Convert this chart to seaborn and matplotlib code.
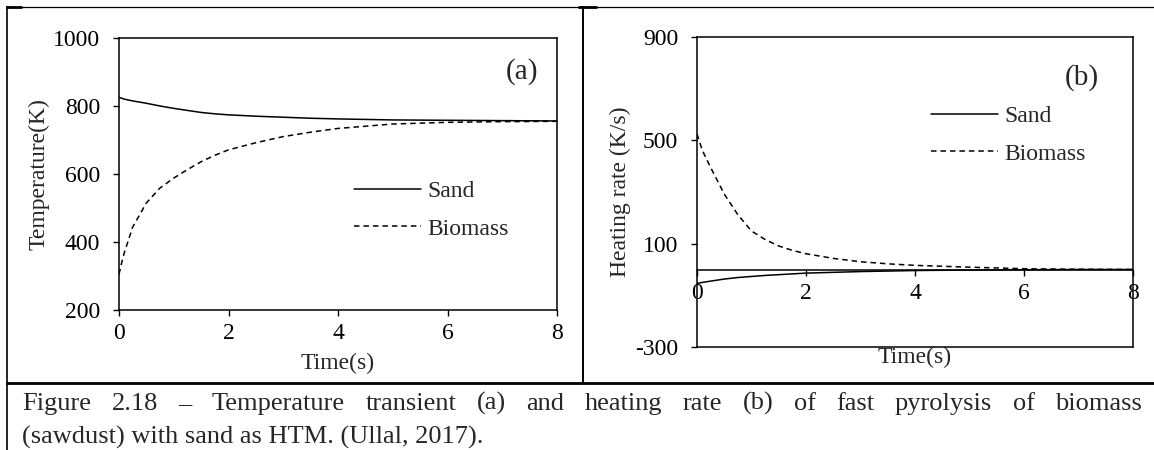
import numpy as np
import pandas as pd
import matplotlib
matplotlib.use("Agg")
import matplotlib.pyplot as plt
from matplotlib.lines import Line2D
import seaborn as sns

# ---- data -------------------------------------------------------------
time_s = [0, 0.05, 0.1, 0.25, 0.5, 0.75, 1, 1.25, 1.5, 1.75, 2, 2.5, 3, 3.5, 4, 5, 6, 7, 8]
temp_sand = [825, 823, 820, 815, 808, 800, 793, 787, 781, 777, 774, 770, 767, 764,
             762, 759, 758, 757, 756]
temp_biomass = [305, 340, 370, 444, 515, 559, 588, 613, 636, 655, 671, 692, 710, 723,
                734, 747, 752, 754, 755]

rate_time = [0, 0.05, 0.1, 0.25, 0.5, 0.75, 1, 1.25, 1.5, 1.75, 2, 2.5, 3, 3.5, 4, 5, 6, 7, 8]
rate_sand = [-55, -52, -50, -45, -37, -31, -27, -23, -20, -17, -14, -11, -8, -6,
             -4, -2, -1, 0, 0]
rate_biomass = [525, 492, 460, 395, 292, 212, 149, 116, 91, 74, 61, 43, 30, 22,
                16, 9, 3, 1, 0]

series = ["Sand", "Biomass"]
temp_ticks = [200, 400, 600, 800, 1000]
rate_ticks = [-300, 100, 500, 900]
time_ticks = [0, 2, 4, 6, 8]

caption_line1 = ("Figure 2.18 \u2013 Temperature transient (a) and heating rate (b) "
                 "of fast pyrolysis of biomass")
caption_line2 = "(sawdust) with sand as HTM. (Ullal, 2017)."

# ---- long-form tables -------------------------------------------------
temp_df = pd.DataFrame({
    "Time": time_s * 2,
    "Value": temp_sand + temp_biomass,
    "Material": ["Sand"] * len(time_s) + ["Biomass"] * len(time_s),
})
rate_df = pd.DataFrame({
    "Time": rate_time * 2,
    "Value": rate_sand + rate_biomass,
    "Material": ["Sand"] * len(rate_time) + ["Biomass"] * len(rate_time),
})

# ---- style ------------------------------------------------------------
sns.set_theme(style="white")
plt.rcParams["font.family"] = ["Liberation Serif", "DejaVu Serif"]
plt.rcParams["axes.unicode_minus"] = False

W, H = 1154, 450
FS = 17
LW = 1.1
fig = plt.figure(figsize=(W / 100, H / 100), dpi=100)
fig.patch.set_facecolor("white")


def px_rect(l, t, r, b):
    return [l / W, 1 - b / H, (r - l) / W, (b - t) / H]


A_L, A_T, A_R, A_B = 119, 38, 557, 310
B_L, B_T, B_R, B_B = 697, 37, 1133, 347
ax1 = fig.add_axes(px_rect(A_L, A_T, A_R, A_B))
ax2 = fig.add_axes(px_rect(B_L, B_T, B_R, B_B))

palette = {"Sand": "black", "Biomass": "black"}
dashes = {"Sand": "", "Biomass": (3.6, 2.6)}

for ax, df in ((ax1, temp_df), (ax2, rate_df)):
    sns.lineplot(data=df, x="Time", y="Value", hue="Material", style="Material",
                 hue_order=series, style_order=series, palette=palette,
                 dashes=dashes, linewidth=LW, ax=ax)
    ax.set_facecolor("white")
    for sp in ax.spines.values():
        sp.set_visible(True)
        sp.set_color("black")
        sp.set_linewidth(LW)
    ax.set_xlim(0, 8)
    ax.set_xticks(time_ticks)
    ax.tick_params(axis="both", which="major", direction="out", length=4.5,
                   width=1, color="black", labelsize=FS, labelcolor="black")
    ax.tick_params(axis="x", pad=5, top=False, bottom=True)
    ax.tick_params(axis="y", pad=9, left=True, right=False)

# panel (a)
ax1.set_ylim(200, 1000)
ax1.set_yticks(temp_ticks)
ax1.set_xlabel("Time(s)", fontsize=FS)
ax1.set_ylabel("Temperature(K)", fontsize=FS)
ax1.xaxis.set_label_coords(0.5, (A_B - 363) / (A_B - A_T))
ax1.yaxis.set_label_coords((39 - A_L) / (A_R - A_L), 0.5)
ax1.text((522 - A_L) / (A_R - A_L), (A_B - 72) / (A_B - A_T), "(a)",
         transform=ax1.transAxes, ha="center", va="center", fontsize=21)

# panel (b): horizontal axis crosses at zero, box kept closed at the bottom
ax2.set_ylim(-300, 900)
ax2.set_yticks(rate_ticks)
ax2.spines["bottom"].set_position(("data", 0))
ax2.plot([0, 1], [0, 0], transform=ax2.transAxes, color="black", lw=LW,
         clip_on=False)
ax2.set_xlabel("Time(s)", fontsize=FS)
ax2.set_ylabel("Heating rate (K/s)", fontsize=FS)
ax2.xaxis.set_label_coords(0.5, (B_B - 357) / (B_B - B_T))
ax2.yaxis.set_label_coords((620 - B_L) / (B_R - B_L), 0.5)
ax2.text((1082 - B_L) / (B_R - B_L), (B_B - 78) / (B_B - B_T), "(b)",
         transform=ax2.transAxes, ha="center", va="center", fontsize=21)

for ax in (ax1, ax2):
    ax.xaxis.label.set_va("center")
    ax.yaxis.label.set_va("center")

# legends
for ax, (lx, ly) in ((ax1, (354, 210)), (ax2, (931, 135))):
    handles, labels = ax.get_legend_handles_labels()
    ax.legend(handles, labels, loc="center left",
              bbox_to_anchor=(lx / W, 1 - ly / H), bbox_transform=fig.transFigure,
              frameon=False, fontsize=FS, handlelength=2.85, handletextpad=0.25,
              labelspacing=0.68, borderpad=0, borderaxespad=0)

# ---- table frame around the figure -----------------------------------
def hline(y, x0, x1, lw):
    fig.add_artist(Line2D([x0 / W, x1 / W], [1 - y / H, 1 - y / H],
                          transform=fig.transFigure, color="black", lw=lw,
                          solid_capstyle="butt"))


def vline(x, y0, y1, lw):
    fig.add_artist(Line2D([x / W, x / W], [1 - y0 / H, 1 - y1 / H],
                          transform=fig.transFigure, color="black", lw=lw,
                          solid_capstyle="butt"))


hline(6.5, 7, W, 0.9)
hline(7, 6, 22, 2.0)
hline(7, 578, 597, 2.0)
vline(7, 6, H, 1.2)
vline(583, 6, 383, 1.4)
hline(383, 6, W, 2.0)

# ---- caption (justified first line) -----------------------------------
CFS = 19
renderer = fig.canvas.get_renderer()
words = caption_line1.split(" ")
texts = [fig.text(0, 0, w, fontsize=CFS, va="baseline", ha="left") for w in words]
widths = [t.get_window_extent(renderer).width for t in texts]
x_left, x_right = 22, 1142
gap = (x_right - x_left - sum(widths)) / (len(words) - 1)
x = x_left
for t, w in zip(texts, widths):
    t.set_position((x / W, 1 - 410 / H))
    x += w + gap
fig.text(x_left / W, 1 - 444 / H, caption_line2, fontsize=CFS, va="baseline",
         ha="left")

fig.savefig("out.png", dpi=100, facecolor="white")
